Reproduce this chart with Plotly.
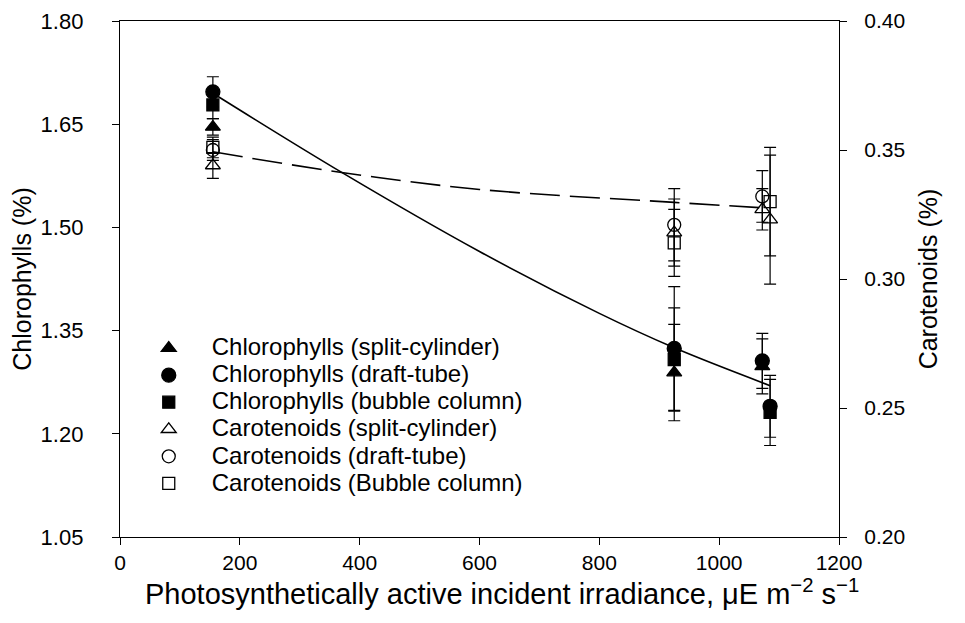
import plotly.graph_objects as go

# ---------------- data ----------------
# Chlorophylls (left axis, %)
chl_split_x = [155, 925, 1072]
chl_split_y = [1.646, 1.289, 1.298]
chl_split_e = [0.012, 0.070, 0.040]

chl_draft_x = [155, 925, 1072, 1085]
chl_draft_y = [1.697, 1.324, 1.306, 1.240]
chl_draft_e = [0.022, 0.090, 0.040, 0.045]

chl_bubble_x = [155, 925, 1085]
chl_bubble_y = [1.678, 1.308, 1.231]
chl_bubble_e = [0.020, 0.075, 0.048]

# Carotenoids (right axis, %)
car_split_x = [155, 925, 1072, 1085]
car_split_y = [0.344, 0.318, 0.327, 0.323]
car_split_e = [0.005, 0.013, 0.008, 0.025]

car_draft_x = [155, 925, 1072]
car_draft_y = [0.350, 0.321, 0.332]
car_draft_e = [0.004, 0.014, 0.010]

car_bubble_x = [155, 925, 1085]
car_bubble_y = [0.351, 0.314, 0.330]
car_bubble_e = [0.004, 0.013, 0.021]

# fitted trend curves
chl_fit_x = [155, 370, 600, 800, 925, 1085]
chl_fit_y = [1.695, 1.580, 1.465, 1.375, 1.325, 1.270]
car_fit_x = [155, 370, 600, 925, 1085]
car_fit_y = [0.3493, 0.3413, 0.3347, 0.3297, 0.3274]

x_ticks = [0, 200, 400, 600, 800, 1000, 1200]
y1_ticks = [1.05, 1.20, 1.35, 1.50, 1.65, 1.80]
y2_ticks = [0.20, 0.25, 0.30, 0.35, 0.40]

X_TITLE = "Photosynthetically active incident irradiance, μE m<sup>−2</sup> s<sup>−1</sup>"

FONT = "Liberation Sans, Arial, Helvetica, sans-serif"
LEG = "<span style='font-size:24px'>%s</span>"

fig = go.Figure()

# trend lines
fig.add_trace(go.Scatter(x=chl_fit_x, y=chl_fit_y, mode="lines", line=dict(color="black", width=1.6, shape="spline"),
                         showlegend=False, hoverinfo="skip"))
fig.add_trace(go.Scatter(x=car_fit_x, y=car_fit_y, mode="lines", yaxis="y2",
                         line=dict(color="black", width=1.6, shape="spline", dash="30px,10px"),
                         showlegend=False, hoverinfo="skip"))

def err(e):
    return dict(type="data", array=e, visible=True, color="black", thickness=1.2, width=6)

series = [
    ("Chlorophylls (split-cylinder)", chl_split_x, chl_split_y, chl_split_e, "triangle-up", 13, "y"),
    ("Chlorophylls (draft-tube)", chl_draft_x, chl_draft_y, chl_draft_e, "circle", 14, "y"),
    ("Chlorophylls (bubble column)", chl_bubble_x, chl_bubble_y, chl_bubble_e, "square", 12, "y"),
    ("Carotenoids (split-cylinder)", car_split_x, car_split_y, car_split_e, "triangle-up-open", 13, "y2"),
    ("Carotenoids (draft-tube)", car_draft_x, car_draft_y, car_draft_e, "circle-open", 13, "y2"),
    ("Carotenoids (Bubble column)", car_bubble_x, car_bubble_y, car_bubble_e, "square-open", 12, "y2"),
]
for name, xs, ys, es, sym, sz, ax in series:
    fig.add_trace(go.Scatter(
        x=xs, y=ys, mode="markers", name=LEG % name, yaxis=ax,
        error_y=err(es),
        marker=dict(symbol=sym, size=sz, color="black", line=dict(color="black", width=1.3)),
    ))

axis_common = dict(showline=True, linecolor="black", linewidth=1.3, ticks="outside", ticklen=7,
                   tickcolor="black", tickwidth=1.3, showgrid=False, zeroline=False, automargin=False,
                   ticklabeloverflow="allow")

fig.update_layout(
    width=965, height=623,
    margin=dict(l=112, r=134, t=13, b=94, autoexpand=False),
    paper_bgcolor="white", plot_bgcolor="white",
    font=dict(family=FONT, color="black"),
    xaxis=dict(range=[0, 1200], tickvals=x_ticks, ticktext=[str(v) for v in x_ticks], mirror=True,
               tickfont=dict(family=FONT, size=21, color="black"),
               **axis_common),
    yaxis=dict(range=[1.05, 1.80], tickvals=y1_ticks, tickformat=".2f", ticklabelstandoff=24,
               tickfont=dict(family=FONT, size=22, color="black"),
               title=dict(text="Chlorophylls (%)", font=dict(family=FONT, size=25), standoff=2),
               **axis_common),
    yaxis2=dict(range=[0.20, 0.40], tickvals=y2_ticks, tickformat=".2f", overlaying="y", side="right",
                ticklabelstandoff=13, tickfont=dict(family=FONT, size=21, color="black"),
                title=dict(text="Carotenoids (%)", font=dict(family=FONT, size=25), standoff=15),
                **axis_common),
    legend=dict(x=0.008, y=0.402, xanchor="left", yanchor="top", bgcolor="rgba(0,0,0,0)",
                font=dict(family=FONT, size=18.5, color="black"), itemwidth=76, tracegroupgap=0),
    annotations=[dict(text=X_TITLE, xref="paper", yref="paper", x=0.5, y=0, xanchor="center",
                      yanchor="middle", xshift=22, yshift=-55, showarrow=False,
                      font=dict(family=FONT, size=29, color="black"))],
)

fig.write_html("out.html")
